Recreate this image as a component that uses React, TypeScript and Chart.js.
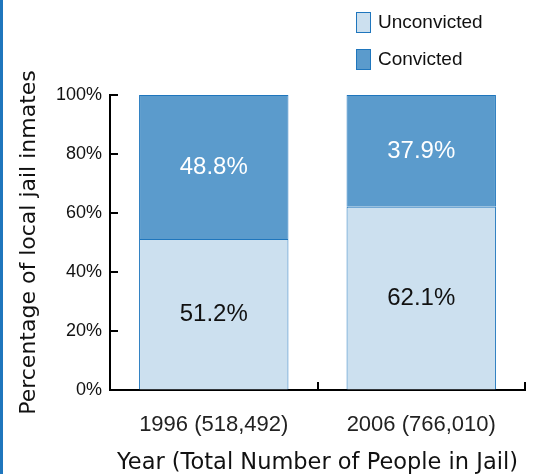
import React, { useEffect, useRef } from "react";
import { Chart, registerables } from "chart.js";

Chart.register(...registerables);

const categories = ["1996 (518,492)", "2006 (766,010)"];
const unconvicted = [51.2, 62.1];
const convicted = [48.8, 37.9];
const yTicks = [0, 20, 40, 60, 80, 100];

const FONT = "'Liberation Sans', Arial, sans-serif";
const WIDE = "'DejaVu Sans', sans-serif";
const DARK = "#5b9bcc";
const LIGHT = "#cce0ef";
const EDGE = "#1f76bd";

const labelPlugin = {
  id: "segLabels",
  afterDatasetsDraw(chart: any) {
    const ctx = chart.ctx;
    ctx.save();
    ctx.font = `24px ${FONT}`;
    ctx.textAlign = "center";
    ctx.textBaseline = "middle";
    chart.data.datasets.forEach((ds: any, di: number) => {
      const meta = chart.getDatasetMeta(di);
      meta.data.forEach((el: any, i: number) => {
        const v = ds.data[i];
        const cy = (el.y + el.base) / 2;
        ctx.fillStyle = di === 0 ? "#111" : "#fff";
        ctx.fillText(v.toFixed(1) + "%", el.x, cy);
      });
    });
    ctx.restore();
  },
};

const tickPlugin = {
  id: "inwardTicks",
  afterDraw(chart: any) {
    const y = chart.scales.y;
    const area = chart.chartArea;
    const ctx = chart.ctx;
    ctx.save();
    ctx.fillStyle = "#000";
    yTicks.forEach((v) => {
      const py = Math.round(y.getPixelForValue(v));
      ctx.fillRect(area.left - 1, py - 1, 9, 2);
    });
    const n = categories.length;
    for (let k = 1; k <= n; k++) {
      const px = Math.round(area.left + (k * (area.right - area.left)) / n);
      ctx.fillRect(px - 1, area.bottom - 8, 2, 9);
    }
    ctx.restore();
  },
};

export default function App() {
  const ref = useRef<HTMLCanvasElement>(null);
  useEffect(() => {
    document.body.style.margin = "0";
    const chart = new Chart(ref.current!, {
      type: "bar",
      data: {
        labels: categories,
        datasets: [
          {
            label: "Unconvicted",
            data: unconvicted,
            backgroundColor: LIGHT,
            borderColor: EDGE,
            borderWidth: 1,
            barPercentage: 0.72,
            categoryPercentage: 1,
          },
          {
            label: "Convicted",
            data: convicted,
            backgroundColor: DARK,
            borderColor: EDGE,
            borderWidth: 1,
            barPercentage: 0.72,
            categoryPercentage: 1,
          },
        ],
      },
      options: {
        animation: false,
        responsive: false,
        devicePixelRatio: 1,
        layout: { padding: { top: 95, right: 8, left: 0, bottom: 0 } },
        plugins: { legend: { display: false }, tooltip: { enabled: false } },
        scales: {
          x: {
            stacked: true,
            offset: true,
            grid: { display: true, drawOnChartArea: false, drawTicks: false },
            border: { display: true, color: "#000", width: 2 },
            ticks: { color: "#222", font: { family: FONT, size: 22 }, padding: 22 },
            title: {
              display: true,
              text: "Year (Total Number of People in Jail)",
              color: "#111",
              font: { family: WIDE, size: 22.5, lineHeight: 1 },
              padding: { top: 0, bottom: 0 },
            },
            afterFit(scale: any) {
              scale.height = 84;
            },
          },
          y: {
            stacked: true,
            min: 0,
            max: 100,
            afterBuildTicks(scale: any) {
              scale.ticks = yTicks.map((v) => ({ value: v }));
            },
            grid: { display: true, drawOnChartArea: false, drawTicks: false },
            border: { display: true, color: "#000", width: 2 },
            ticks: {
              color: "#111",
              font: { family: FONT, size: 18 },
              padding: 8,
              callback: (v: any) => v + "%",
            },
            title: {
              display: true,
              text: "Percentage of local jail inmates",
              color: "#111",
              font: { family: WIDE, size: 22, lineHeight: 1 },
              padding: { top: 18, bottom: 0 },
            },
            afterFit(scale: any) {
              scale.width = 110;
            },
          },
        },
      },
      plugins: [labelPlugin, tickPlugin],
    } as any);
    return () => chart.destroy();
  }, []);

  const legendItem = (color: string, text: string, top: number) => (
    <div style={{ position: "absolute", left: 356, top, display: "flex", alignItems: "center" }}>
      <div style={{ width: 15, height: 21, background: color, border: `1px solid ${EDGE}`, boxSizing: "border-box" }} />
      <span style={{ marginLeft: 7, fontFamily: FONT, fontSize: 19, color: "#111", lineHeight: "22px" }}>{text}</span>
    </div>
  );

  return (
    <div style={{ position: "absolute", left: 0, top: 0, width: 533, height: 474, background: "#fff" }}>
      <canvas ref={ref} width={533} height={474} style={{ position: "absolute", left: 0, top: 0 }} />
      <div style={{ position: "absolute", left: 0, top: 0, width: 3, height: 474, background: "#1f76bd" }} />
      {legendItem(LIGHT, "Unconvicted", 11)}
      {legendItem(DARK, "Convicted", 48)}
    </div>
  );
}
